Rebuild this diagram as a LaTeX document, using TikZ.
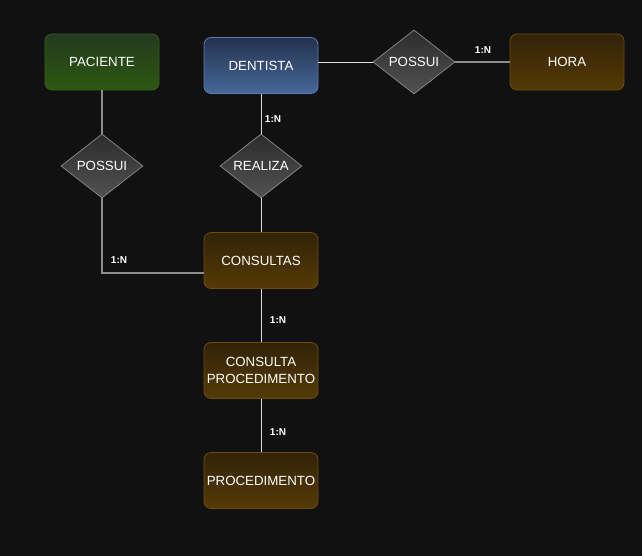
\documentclass[tikz,border=0pt]{standalone}
\usepackage{fontspec}
\setmainfont{Liberation Sans}
\usetikzlibrary{shapes.geometric}
\definecolor{bg}{HTML}{111111}
\definecolor{brdraw}{HTML}{6B4D12}
\tikzset{
  ent/.style={rounded corners=7pt, minimum width=114pt, minimum height=56pt, align=center, text=white, font=\fontsize{13.3}{17.5}\selectfont, line width=0.8pt, inner sep=2pt},
  brown/.style={ent, draw=brdraw, top color={rgb,255:red,50;green,35;blue,8}, bottom color={rgb,255:red,85;green,58;blue,5}},
  green/.style={ent, draw={rgb,255:red,58;green,92;blue,34}, top color={rgb,255:red,36;green,58;blue,30}, bottom color={rgb,255:red,44;green,88;blue,16}},
  blue/.style={ent, draw={rgb,255:red,92;green,124;blue,176}, top color={rgb,255:red,36;green,50;blue,78}, bottom color={rgb,255:red,70;green,104;blue,154}},
  rel/.style={diamond, aspect=1.28, minimum width=82pt, minimum height=64pt, inner sep=0pt, draw={rgb,255:red,130;green,130;blue,130}, line width=0.8pt, top color={rgb,255:red,44;green,44;blue,44}, bottom color={rgb,255:red,82;green,82;blue,82}, text=white, font=\fontsize{13.3}{15}\selectfont},
  wline/.style={draw={rgb,255:red,220;green,220;blue,220}, line width=0.9pt},
  gline/.style={draw={rgb,255:red,140;green,140;blue,140}, line width=1.2pt},
  card/.style={text=white, font=\bfseries\fontsize{10}{12}\selectfont, inner sep=0pt}
}
\begin{document}
\begin{tikzpicture}[x=1pt,y=-1pt]
\fill[bg] (0,0) rectangle (642,556);
\useasboundingbox (0,0) rectangle (642,556);
\node[green] (pac) at (102,62) {PACIENTE};
\node[blue] (den) at (261,65.5) {DENTISTA};
\node[rel] (pos2) at (414,62) {POSSUI};
\node[brown] (hora) at (567,62) {HORA};
\node[rel] (pos1) at (102,166) {POSSUI};
\node[rel] (real) at (261,166) {REALIZA};
\node[brown] (cons) at (261,260.5) {CONSULTAS};
\node[brown] (cp) at (261,370.5) {CONSULTA\\PROCEDIMENTO};
\node[brown] (proc) at (261,480.5) {PROCEDIMENTO};
\coordinate (corner) at (102,273);
\coordinate (consl) at (204,273);
\draw[gline] (pac.south) -- (pos1.north);
\draw[gline] (pos1.south) -- (corner) -- (consl);
\draw[wline] (den.south) -- (real.north);
\draw[wline] (real.south) -- (cons.north);
\draw[wline] (den.east |- pos2.west) -- (pos2.west);
\draw[gline] (pos2.east) -- (hora.west);
\draw[wline] (cons.south) -- (cp.north);
\draw[wline] (cp.south) -- (proc.north);
\node[card] (l1) at (119,260) {1:N};
\node[card] (l2) at (273,119) {1:N};
\node[card] (l3) at (483,50) {1:N};
\node[card] (l4) at (278,320) {1:N};
\node[card] (l5) at (278,432) {1:N};
\end{tikzpicture}
\end{document}
